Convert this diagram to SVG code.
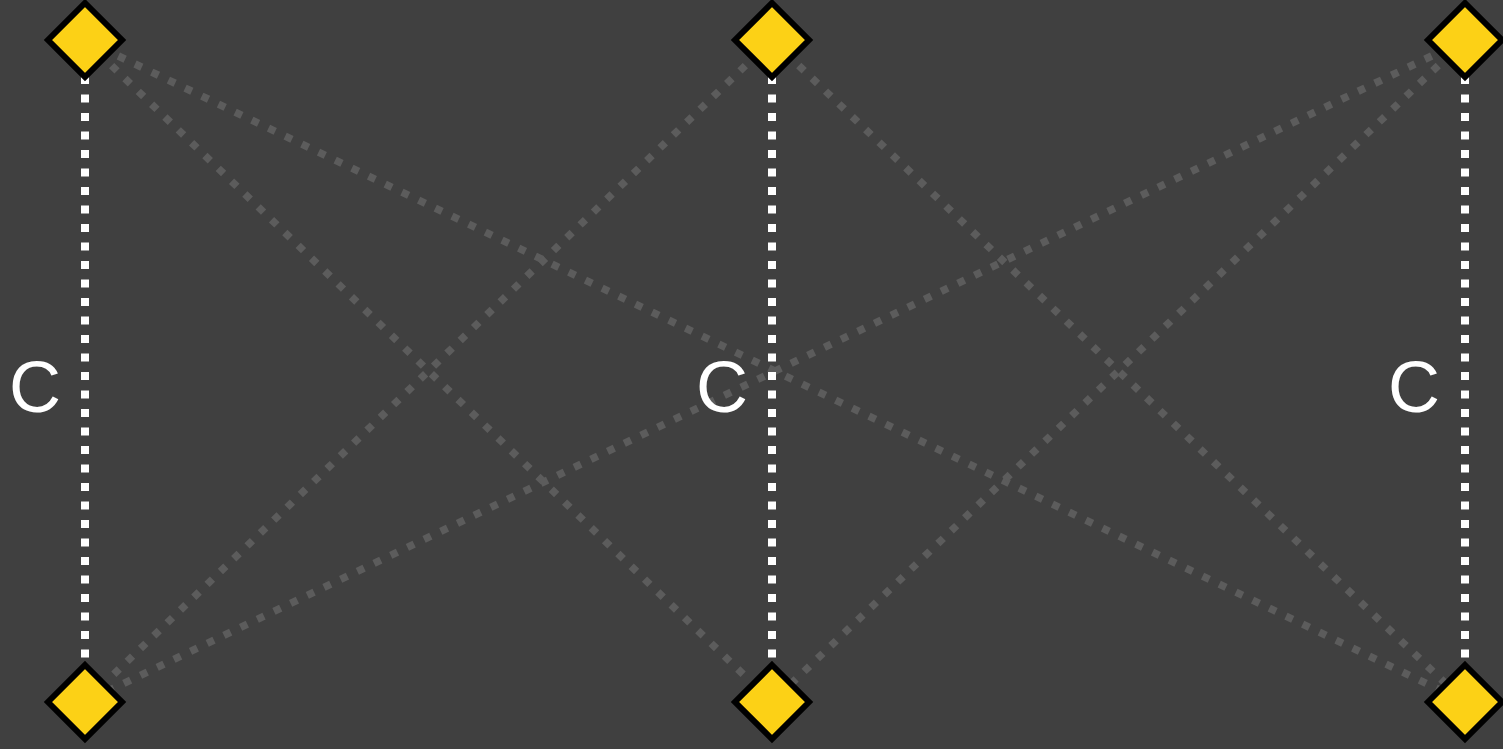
<svg xmlns="http://www.w3.org/2000/svg" width="1503" height="749" viewBox="0 0 1503 749">
<style>
.bg{fill:#404040}
.cross{stroke:#5c5c5c;stroke-width:7.5;stroke-dasharray:7.5 11;fill:none}
.link{stroke:#ffffff;stroke-width:8;stroke-dasharray:8 10.5;fill:none}
.node{fill:#fcd116;stroke:#000;stroke-width:6}
.lbl{font-family:"Liberation Sans",Arial,sans-serif;font-size:72px;fill:#fff;text-anchor:middle}
</style>
<rect class="bg" x="0" y="0" width="1503" height="749"/>
<g id="connectors">
<line class="cross" x1="85" y1="40" x2="772" y2="702"/>
<line class="cross" x1="85" y1="40" x2="1465" y2="702"/>
<line class="cross" x1="772" y1="40" x2="85" y2="702"/>
<line class="cross" x1="772" y1="40" x2="1465" y2="702"/>
<line class="cross" x1="1465" y1="40" x2="85" y2="702"/>
<line class="cross" x1="1465" y1="40" x2="772" y2="702"/>
<line class="link" x1="85" y1="76" x2="85" y2="666"/>
<line class="link" x1="772" y1="76" x2="772" y2="666"/>
<line class="link" x1="1465" y1="76" x2="1465" y2="666"/>
<text class="lbl" x="35" y="412">C</text>
<text class="lbl" x="722" y="412">C</text>
<text class="lbl" x="1414" y="412">C</text>
</g>
<g id="n1"><path class="node" d="M85 3 L122 40 L85 77 L48 40 Z"/></g>
<g id="n2"><path class="node" d="M772 3 L809 40 L772 77 L735 40 Z"/></g>
<g id="n3"><path class="node" d="M1465 3 L1502 40 L1465 77 L1428 40 Z"/></g>
<g id="n4"><path class="node" d="M85 665 L122 702 L85 739 L48 702 Z"/></g>
<g id="n5"><path class="node" d="M772 665 L809 702 L772 739 L735 702 Z"/></g>
<g id="n6"><path class="node" d="M1465 665 L1502 702 L1465 739 L1428 702 Z"/></g>
</svg>
